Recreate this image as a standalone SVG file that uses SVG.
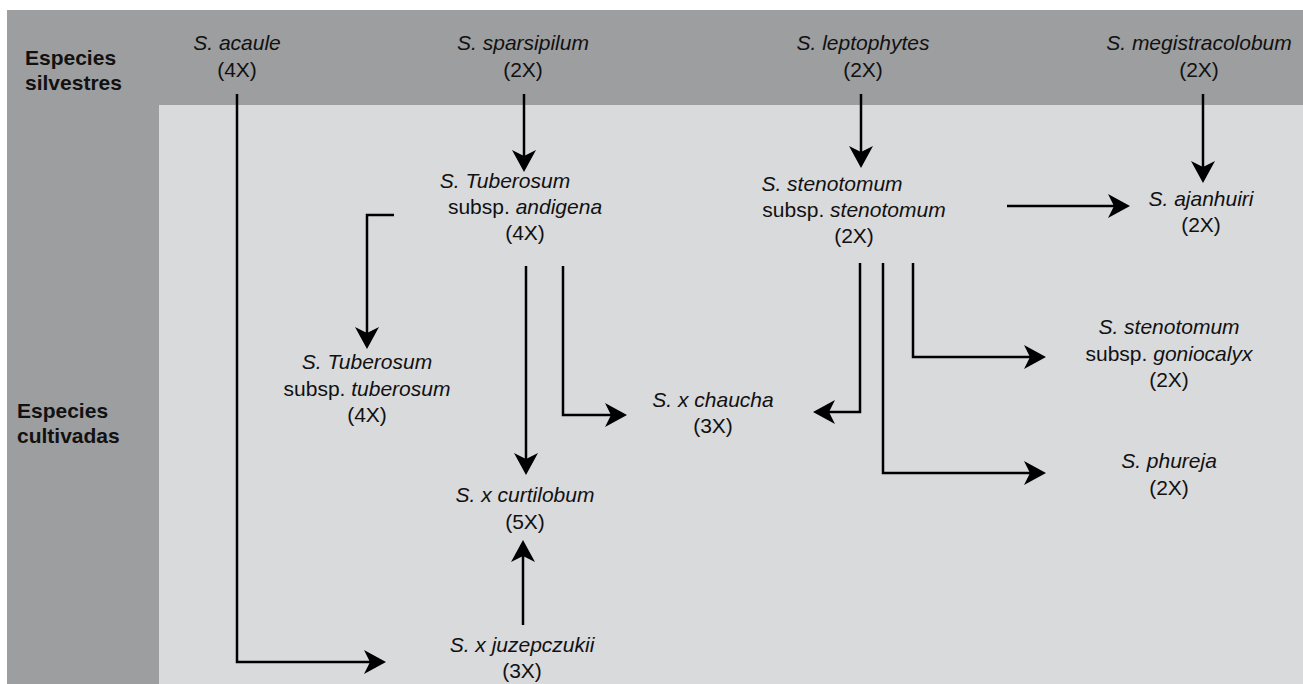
<svg xmlns="http://www.w3.org/2000/svg" width="1303" height="684" viewBox="0 0 1303 684">
<style>
text{font-family:"Liberation Sans",Arial,sans-serif;font-size:21px;fill:#111;}
.n text{text-anchor:middle;}
.i{font-style:italic;}
.b{font-weight:bold;}
.c{fill:none;stroke:#000;stroke-width:2.5;}
</style>
<defs>
<marker id="ah" viewBox="0 0 22 24" refX="6" refY="12" markerWidth="22" markerHeight="24" markerUnits="userSpaceOnUse" orient="auto">
<path d="M0,0 L22,12 L0,24 L6,12 Z" fill="#000"/>
</marker>
</defs>
<rect id="band-silvestres" x="7" y="10" width="1296" height="674" fill="#9d9ea0"/>
<rect id="band-cultivadas" x="159" y="105" width="1144" height="579" fill="#d9dadc"/>
<g id="labels">
<text class="b" x="25" y="65">Especies</text>
<text class="b" x="25" y="90">silvestres</text>
<text class="b" x="17" y="418">Especies</text>
<text class="b" x="17" y="443">cultivadas</text>
</g>
<g id="connectors" class="c">
<path class="c" d="M237,94 V662 H370" marker-end="url(#ah)"/>
<path class="c" d="M524,94 V156" marker-end="url(#ah)"/>
<path class="c" d="M861,94 V152" marker-end="url(#ah)"/>
<path class="c" d="M1203,94 V167" marker-end="url(#ah)"/>
<path class="c" d="M1007,206 H1114" marker-end="url(#ah)"/>
<path class="c" d="M394,215 H367 V333" marker-end="url(#ah)"/>
<path class="c" d="M526,266 V459" marker-end="url(#ah)"/>
<path class="c" d="M563,266 V415 H611" marker-end="url(#ah)"/>
<path class="c" d="M523,625 V556" marker-end="url(#ah)"/>
<path class="c" d="M860,263 V412 H829" marker-end="url(#ah)"/>
<path class="c" d="M883,263 V473 H1030" marker-end="url(#ah)"/>
<path class="c" d="M913,263 V357 H1030" marker-end="url(#ah)"/>
</g>
<g id="acaule" class="n">
<text class="i" x="237" y="50">S. acaule</text>
<text x="237" y="77">(4X)</text>
</g>
<g id="sparsipilum" class="n">
<text class="i" x="523" y="50">S. sparsipilum</text>
<text x="523" y="77">(2X)</text>
</g>
<g id="leptophytes" class="n">
<text class="i" x="863" y="50">S. leptophytes</text>
<text x="863" y="77">(2X)</text>
</g>
<g id="megistracolobum" class="n">
<text class="i" x="1199" y="50">S. megistracolobum</text>
<text x="1199" y="77">(2X)</text>
</g>
<g id="andigena" class="n">
<text class="i" x="505" y="188">S. Tuberosum</text>
<text x="525" y="214">subsp. <tspan class="i">andigena</tspan></text>
<text x="525" y="240">(4X)</text>
</g>
<g id="stenotomum" class="n">
<text class="i" x="832" y="191">S. stenotomum</text>
<text x="854" y="217">subsp. <tspan class="i">stenotomum</tspan></text>
<text x="854" y="243">(2X)</text>
</g>
<g id="ajanhuiri" class="n">
<text class="i" x="1201" y="206">S. ajanhuiri</text>
<text x="1201" y="232">(2X)</text>
</g>
<g id="tuberosum" class="n">
<text class="i" x="367" y="369">S. Tuberosum</text>
<text x="367" y="396">subsp. <tspan class="i">tuberosum</tspan></text>
<text x="367" y="422">(4X)</text>
</g>
<g id="goniocalyx" class="n">
<text class="i" x="1169" y="334">S. stenotomum</text>
<text x="1169" y="361">subsp. <tspan class="i">goniocalyx</tspan></text>
<text x="1169" y="387">(2X)</text>
</g>
<g id="phureja" class="n">
<text class="i" x="1169" y="468">S. phureja</text>
<text x="1169" y="495">(2X)</text>
</g>
<g id="chaucha" class="n">
<text class="i" x="713" y="407">S. x chaucha</text>
<text x="713" y="433">(3X)</text>
</g>
<g id="curtilobum" class="n">
<text class="i" x="525" y="502">S. x curtilobum</text>
<text x="525" y="529">(5X)</text>
</g>
<g id="juzepczukii" class="n">
<text class="i" x="522" y="652">S. x juzepczukii</text>
<text x="522" y="678">(3X)</text>
</g>
</svg>
